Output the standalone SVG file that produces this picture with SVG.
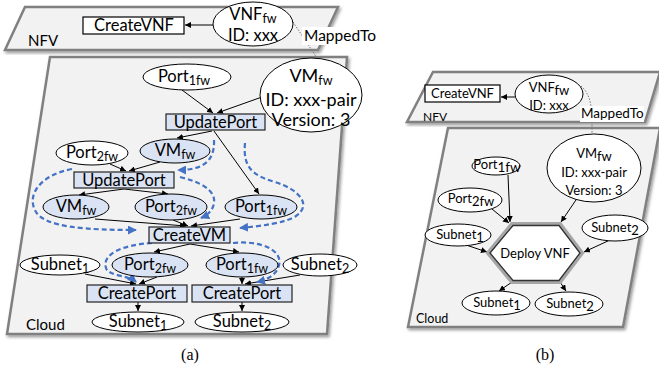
<svg xmlns="http://www.w3.org/2000/svg" width="659" height="371" viewBox="0 0 659 371">
<defs>
<filter id="sh" x="-10%" y="-10%" width="120%" height="120%">
<feDropShadow dx="1.5" dy="2" stdDeviation="1.5" flood-color="#000" flood-opacity="0.4"/>
</filter>
<marker id="ah" viewBox="0 0 10 10" refX="10" refY="5" markerWidth="6" markerHeight="6" markerUnits="userSpaceOnUse" orient="auto">
<path d="M0,0 L10,5 L0,10 Z" fill="#000"/>
</marker>
<marker id="bh" viewBox="0 0 10 10" refX="9" refY="5" markerWidth="9" markerHeight="9" markerUnits="userSpaceOnUse" orient="auto">
<path d="M0,0 L10,5 L0,10 Z" fill="#4472c4"/>
</marker>
</defs>
<style>
.plane{fill:#f2f2f2;stroke:#808080;stroke-width:2.5;filter:url(#sh)}
.ew{fill:#fff;stroke:#000;stroke-width:1}
.eb{fill:#dae3f3;stroke:#000;stroke-width:1}
.bw{fill:#fff;stroke:#000;stroke-width:1.2}
.bb{fill:#dae3f3;stroke:#222;stroke-width:1.2}
text{font-family:Lato,"Liberation Sans",sans-serif;fill:#000}
.t{font-size:16.5px;text-anchor:middle}
.s{font-size:12.5px}
.v{font-size:18px;text-anchor:middle}
.tb{font-size:13px;text-anchor:middle}
.lbl{font-size:15px}
.cap{font-family:"Liberation Serif",serif;font-size:16px;text-anchor:middle}
.c line,.c path{stroke:#000;stroke-width:1;fill:none;marker-end:url(#ah)}
.c .dot{stroke:#777;stroke-dasharray:1.5 1.5;marker-end:none}
.d path{stroke:#4472c4;stroke-width:2.2;stroke-dasharray:5 3;fill:none;marker-end:url(#bh)}
</style>

<!-- planes -->
<polygon class="plane" points="25,7 338,7 318,50 5,50"/>
<polygon class="plane" points="50,57 347,57 327,334 7,334"/>
<polygon class="plane" points="433,72 660,72 645,122 407,122"/>
<polygon class="plane" points="448,128 660,128 623,327 408,327"/>
<text class="lbl" x="28" y="46">NFV</text>
<text class="lbl" x="26" y="330">Cloud</text>
<text x="423" y="121" font-size="12">NFV</text>
<text x="416" y="323" font-size="12.5">Cloud</text>

<!-- connectors -->
<g id="connectors" class="c">
<line x1="213" y1="25" x2="185" y2="25"/>
<line class="dot" x1="293" y1="22" x2="317" y2="58"/>
<line x1="182" y1="90" x2="213" y2="113"/>
<line x1="262" y1="97" x2="217" y2="113"/>
<line x1="212" y1="131" x2="177" y2="138"/>
<line x1="214" y1="131" x2="259" y2="194"/>
<line x1="110" y1="164" x2="126" y2="171"/>
<line x1="160" y1="162" x2="129" y2="171"/>
<line x1="124" y1="189" x2="79" y2="195"/>
<line x1="124" y1="189" x2="168" y2="194"/>
<line x1="95" y1="219" x2="186" y2="226"/>
<line x1="173" y1="220" x2="188" y2="226"/>
<line x1="240" y1="219" x2="191" y2="226"/>
<line x1="190" y1="244" x2="154" y2="252"/>
<line x1="190" y1="244" x2="239" y2="252"/>
<line x1="85" y1="274" x2="136" y2="284"/>
<line x1="157" y1="277" x2="139" y2="284"/>
<line x1="242" y1="277" x2="242" y2="284"/>
<line x1="300" y1="275" x2="245" y2="284"/>
<line x1="138" y1="302" x2="138" y2="311"/>
<line x1="242" y1="302" x2="242" y2="311"/>
<!-- (b) -->
<line x1="515" y1="97" x2="501" y2="97"/>
<path class="dot" d="M581,86 C588,92 590,100 591,106 M592,122 L592,134"/>
<line x1="508" y1="175" x2="510" y2="222"/>
<line x1="492" y1="209" x2="509" y2="223"/>
<line x1="578" y1="197" x2="561" y2="222"/>
<line x1="466" y1="245" x2="487" y2="252"/>
<line x1="610" y1="240" x2="584" y2="252"/>
<line x1="512" y1="282" x2="499" y2="291"/>
<line x1="560" y1="282" x2="566" y2="291"/>
</g>

<g id="dashed" class="d">
<path d="M214,140 C215,162 202,170 178,170"/>
<path d="M72,169 C40,175 27,195 35,210 C42,228 90,230 136,230"/>
<path d="M180,177 C200,182 216,190 214,203 C213,210 208,215 201,218"/>
<path d="M245,143 C243,165 250,175 275,182 C300,190 312,205 296,216 C285,223 262,226 240,228"/>
<path d="M152,243 C120,245 102,255 106,268 C108,276 128,275 136,282"/>
<path d="M233,243 C260,240 283,250 279,265 C277,275 266,280 257,282"/>
</g>

<!-- MappedTo labels -->
<g id="mapped-a"><rect x="302" y="27" width="70" height="18" fill="#fff"/><text x="304" y="41" font-size="15.5">MappedTo</text></g>
<g id="mapped-b"><rect x="580" y="106" width="64" height="16" fill="#fff"/><text x="581" y="118" font-size="13.5">MappedTo</text></g>

<!-- (a) nodes -->
<g id="a-createvnf"><rect class="bw" x="83" y="17" width="101" height="17"/><text class="t" x="134" y="31">CreateVNF</text></g>
<g id="a-vnf"><ellipse class="ew" cx="253" cy="24" rx="40" ry="22"/><text class="t" x="253" y="20">VNF<tspan class="s" dy="3">fw</tspan></text><text class="t" x="253" y="41">ID: xxx</text></g>
<g id="a-vm"><ellipse class="ew" cx="311" cy="95" rx="51" ry="37"/><text class="v" x="311" y="82">VM<tspan class="s" dy="3">fw</tspan></text><text class="v" x="311" y="106">ID: xxx-pair</text><text class="v" x="311" y="126">Version: 3</text></g>
<g id="a-port1-top"><ellipse class="ew" cx="187" cy="77" rx="44" ry="13"/><text class="t" x="184" y="82">Port<tspan class="s" dy="3">1fw</tspan></text></g>
<g id="a-updateport1"><rect class="bb" x="166" y="114" width="99" height="16"/><text class="t" x="215.5" y="128">UpdatePort</text></g>
<g id="a-port2-w"><ellipse class="ew" cx="92" cy="153" rx="36" ry="12"/><text class="t" x="92" y="158">Port<tspan class="s" dy="3">2fw</tspan></text></g>
<g id="a-vm-b1"><ellipse class="eb" cx="175" cy="151" rx="35" ry="12"/><text class="t" x="175" y="156">VM<tspan class="s" dy="3">fw</tspan></text></g>
<g id="a-updateport2"><rect class="bb" x="74" y="172" width="100" height="16"/><text class="t" x="124" y="186">UpdatePort</text></g>
<g id="a-vm-b2"><ellipse class="eb" cx="76" cy="207" rx="33" ry="12"/><text class="t" x="76" y="212">VM<tspan class="s" dy="3">fw</tspan></text></g>
<g id="a-port2-b1"><ellipse class="eb" cx="171" cy="207" rx="36" ry="13"/><text class="t" x="171" y="212">Port<tspan class="s" dy="3">2fw</tspan></text></g>
<g id="a-port1-b1"><ellipse class="eb" cx="261" cy="207" rx="36" ry="12"/><text class="t" x="261" y="212">Port<tspan class="s" dy="3">1fw</tspan></text></g>
<g id="a-createvm"><rect class="bb" x="149" y="227" width="81" height="16"/><text class="t" x="189.5" y="241">CreateVM</text></g>
<g id="a-subnet1-top"><ellipse class="ew" cx="60" cy="265" rx="40" ry="10"/><text class="t" x="60" y="270">Subnet<tspan class="s" dy="3">1</tspan></text></g>
<g id="a-port2-b2"><ellipse class="eb" cx="150" cy="265" rx="38" ry="12"/><text class="t" x="150" y="270">Port<tspan class="s" dy="3">2fw</tspan></text></g>
<g id="a-port1-b2"><ellipse class="eb" cx="242" cy="265" rx="36" ry="12"/><text class="t" x="242" y="270">Port<tspan class="s" dy="3">1fw</tspan></text></g>
<g id="a-subnet2-top"><ellipse class="ew" cx="320" cy="265" rx="37" ry="11"/><text class="t" x="320" y="270">Subnet<tspan class="s" dy="3">2</tspan></text></g>
<g id="a-createport1"><rect class="bb" x="87" y="285" width="100" height="17"/><text class="t" x="137" y="299">CreatePort</text></g>
<g id="a-createport2"><rect class="bb" x="192" y="285" width="100" height="17"/><text class="t" x="242" y="299">CreatePort</text></g>
<g id="a-subnet1-bot"><ellipse class="ew" cx="138" cy="322" rx="46" ry="10"/><text class="t" x="138" y="327">Subnet<tspan class="s" dy="3">1</tspan></text></g>
<g id="a-subnet2-bot"><ellipse class="ew" cx="242" cy="322" rx="47" ry="10"/><text class="t" x="242" y="327">Subnet<tspan class="s" dy="3">2</tspan></text></g>

<!-- (b) nodes -->
<g id="b-createvnf"><rect class="bw" x="425" y="85" width="75" height="17"/><text class="tb" x="462.5" y="98">CreateVNF</text></g>
<g id="b-vnf"><ellipse class="ew" cx="549" cy="94" rx="34" ry="19"/><text class="tb" x="549" y="92" font-size="14">VNF<tspan dy="3">fw</tspan></text><text class="tb" x="549" y="110">ID: xxx</text></g>
<g id="b-vm"><ellipse class="ew" cx="594" cy="168" rx="47" ry="34"/><text class="tb" x="594" y="158" font-size="15">VM<tspan dy="3">fw</tspan></text><text class="tb" x="594" y="177">ID: xxx-pair</text><text class="tb" x="594" y="195">Version: 3</text></g>
<g id="b-port1"><ellipse class="ew" cx="496" cy="166" rx="24" ry="9"/><text class="tb" x="497" y="169" font-size="12">Port<tspan dy="3" font-size="13.5">1fw</tspan></text></g>
<g id="b-port2"><ellipse class="ew" cx="470" cy="200" rx="32" ry="12"/><text class="tb" x="471" y="203">Port<tspan dy="3">2fw</tspan></text></g>
<g id="b-subnet1-top"><ellipse class="ew" cx="458" cy="235" rx="33" ry="11"/><text class="tb" x="460" y="239" font-size="14">Subnet<tspan dy="3">1</tspan></text></g>
<g id="b-subnet2-top"><ellipse class="ew" cx="615" cy="228" rx="33" ry="13"/><text class="tb" x="615" y="232" font-size="14">Subnet<tspan dy="3">2</tspan></text></g>
<g id="b-deploy">
<polygon points="488,253 512,224 560,224 582,253 560,282 512,282" fill="#fff" stroke="#a6a6a6" stroke-width="4"/>
<polygon points="490,253 513,225.5 559,225.5 580,253 559,280.5 513,280.5" fill="none" stroke="#333" stroke-width="1.3"/>
<text class="tb" x="535" y="258">Deploy VNF</text></g>
<g id="b-subnet1-bot"><ellipse class="ew" cx="496" cy="303" rx="34" ry="12"/><text class="tb" x="497" y="307" font-size="14">Subnet<tspan dy="3">1</tspan></text></g>
<g id="b-subnet2-bot"><ellipse class="ew" cx="569" cy="304" rx="34" ry="12"/><text class="tb" x="570" y="308" font-size="14">Subnet<tspan dy="3">2</tspan></text></g>

<text class="cap" x="190" y="360">(a)</text>
<text class="cap" x="545" y="360">(b)</text>
</svg>
